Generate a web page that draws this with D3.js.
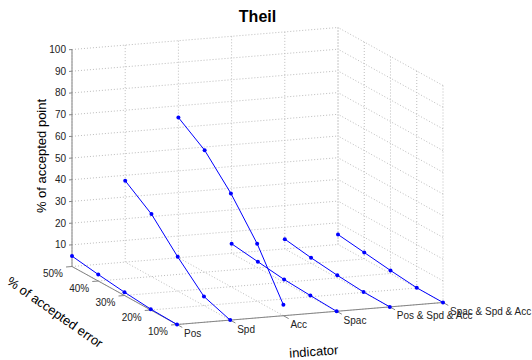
<!DOCTYPE html>
<html>
<head>
<meta charset="utf-8">
<style>
  body { margin: 0; background: #fff; }
  text { font-family: Arial, "Liberation Sans", Helvetica, sans-serif; }
</style>
</head>
<body>
<div id="chart"></div>
<script src="https://d3js.org/d3.v7.min.js"></script>
<script>
    // categories on the indicator axis
    var indicators = ["Pos", "Spd", "Acc", "Spac", "Pos & Spd & Acc", "Spac & Spd & Acc"];
    // accepted error levels (%)
    var errors = [10, 20, 30, 40, 50];
    var errorLabels = ["10%", "20%", "30%", "40%", "50%"];
    var zTicks = [10, 20, 30, 40, 50, 60, 70, 80, 90, 100];

    // % of accepted point, one series per indicator, ordered by error 10..50
    var posVals = [0, 0.4, 1.5, 3.0, 4.8];
    var spdVals = [0, 4.2, 15.8, 28.8, 37.5];
    var accVals = [5.0, 26.5, 43.0, 56.2, 64.6];
    var spacVals = [0, 0.6, 1.3, 2.8, 4.4];
    var psaVals = [0, 0.2, 1.2, 2.6, 4.5];
    var ssaVals = [0, 0.1, 1.4, 3.0, 4.6];
    var series = [posVals, spdVals, accVals, spacVals, psaVals, ssaVals];

    var w = 532;
    var h = 360;

    var svg = d3.select('#chart')
        .append('svg')
        .attr('width', w)
        .attr('height', h);

    // scales: data -> unit steps of the projected box
    var xs = d3.scalePoint().domain(indicators).range([0, 5]);
    var es = d3.scaleLinear().domain([10, 50]).range([0, 4]);
    var zs = d3.scaleLinear().domain([0, 100]).range([0, 217]);

    // projection vectors (orthographic view)
    var ox = 177, oy = 324.5;
    var vx = [53.2, -4.4];     // one indicator step
    var ve = [-26.25, -14.5];  // one 10% error step

    function proj(c, e, z) {
        var i = typeof c === "number" ? c : xs(c);
        var j = es(e);
        return [ox + i * vx[0] + j * ve[0], oy + i * vx[1] + j * ve[1] - zs(z)];
    }

    function seg(g, a, b) {
        return g.append('line')
            .attr('x1', a[0]).attr('y1', a[1])
            .attr('x2', b[0]).attr('y2', b[1]);
    }

    var grid = svg.append('g')
        .attr('stroke', '#bdbdbd')
        .attr('stroke-width', 1)
        .attr('stroke-dasharray', '1,2')
        .attr('fill', 'none');

    var first = indicators[0], last = indicators[indicators.length - 1];

    // back wall (error = 50)
    indicators.forEach(function (c) {
        seg(grid, proj(c, 50, 0), proj(c, 50, 100));
    });
    zTicks.forEach(function (z) {
        seg(grid, proj(first, 50, z), proj(last, 50, z));
    });
    // right wall (last indicator)
    errors.forEach(function (e) {
        seg(grid, proj(last, e, 0), proj(last, e, 100));
    });
    zTicks.forEach(function (z) {
        seg(grid, proj(last, 10, z), proj(last, 50, z));
    });
    // floor
    indicators.forEach(function (c) {
        seg(grid, proj(c, 10, 0), proj(c, 50, 0));
    });
    errors.forEach(function (e) {
        seg(grid, proj(first, e, 0), proj(last, e, 0));
    });

    // axes
    var axes = svg.append('g')
        .attr('stroke', '#858585')
        .attr('stroke-width', 1);
    seg(axes, proj(first, 50, 0), proj(first, 50, 100));
    seg(axes, proj(first, 10, 0), proj(first, 50, 0));
    seg(axes, proj(first, 10, 0), proj(last, 10, 0));

    var lx = Math.hypot(vx[0], vx[1]), le = Math.hypot(ve[0], ve[1]);
    var tickLen = 6;

    // z ticks
    zTicks.forEach(function (z) {
        var p = proj(first, 50, z);
        seg(axes, p, [p[0] - vx[0] / lx * 3, p[1] - vx[1] / lx * 3]);
        svg.append('text')
            .attr('x', p[0] - 6)
            .attr('y', p[1])
            .attr('dy', '0.35em')
            .attr('text-anchor', 'end')
            .attr('font-size', '10px')
            .attr('fill', '#222')
            .text(z);
    });

    // error ticks
    errors.forEach(function (e, k) {
        var p = proj(first, e, 0);
        seg(axes, p, [p[0] - vx[0] / lx * tickLen, p[1] - vx[1] / lx * tickLen]);
        svg.append('text')
            .attr('x', p[0] - 19)
            .attr('y', p[1] + 7)
            .attr('dy', '0.35em')
            .attr('text-anchor', 'middle')
            .attr('font-size', '10px')
            .attr('fill', '#222')
            .text(errorLabels[k]);
    });

    // indicator ticks
    indicators.forEach(function (c) {
        var p = proj(c, 10, 0);
        seg(axes, p, [p[0] - ve[0] / le * tickLen, p[1] - ve[1] / le * tickLen]);
        svg.append('text')
            .attr('x', p[0] + 7)
            .attr('y', p[1] + 9)
            .attr('dy', '0.35em')
            .attr('text-anchor', 'start')
            .attr('font-size', '10px')
            .attr('fill', '#222')
            .text(c);
    });

    // data lines
    var line = d3.line();
    series.forEach(function (vals, i) {
        var pts = vals.map(function (v, k) { return proj(indicators[i], errors[k], v); });
        svg.append('path')
            .attr('d', line(pts))
            .attr('fill', 'none')
            .attr('stroke', '#0000ff')
            .attr('stroke-width', 1);
        svg.selectAll(null)
            .data(pts)
            .enter()
            .append('circle')
            .attr('cx', function (d) { return d[0]; })
            .attr('cy', function (d) { return d[1]; })
            .attr('r', 2)
            .attr('fill', '#0000ff');
    });

    // titles
    svg.append('text')
        .attr('x', 257.5)
        .attr('y', 21.5)
        .attr('text-anchor', 'middle')
        .attr('font-size', '16px')
        .attr('font-weight', 'bold')
        .attr('fill', '#000')
        .text('Theil');

    svg.append('text')
        .attr('transform', 'translate(46,156) rotate(-90)')
        .attr('text-anchor', 'middle')
        .attr('font-size', '13px')
        .attr('fill', '#000')
        .text('% of accepted point');

    svg.append('text')
        .attr('transform', 'translate(55,312) rotate(35)')
        .attr('text-anchor', 'middle')
        .attr('dy', '0.35em')
        .attr('font-size', '13px')
        .attr('fill', '#000')
        .text('% of accepted error');

    svg.append('text')
        .attr('transform', 'translate(314,356) rotate(-4)')
        .attr('text-anchor', 'middle')
        .attr('font-size', '13px')
        .attr('fill', '#000')
        .text('indicator');
</script>
</body>
</html>
